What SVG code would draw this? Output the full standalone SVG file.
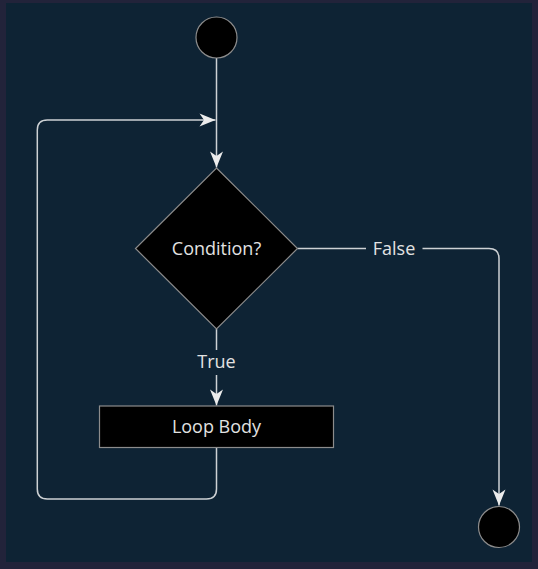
<svg xmlns="http://www.w3.org/2000/svg" width="538" height="569" viewBox="0 0 538 569">
<defs>
<style>
.node{fill:#000;stroke:#8c8c8c;stroke-width:1.2}
.edge{fill:none;stroke:#cdd1d4;stroke-width:1.5}
.lbl{font-family:"Open Sans","Noto Sans",sans-serif;font-size:18px;fill:#e2e2e2;text-anchor:middle;dominant-baseline:central}
</style>
<marker id="arr" markerUnits="userSpaceOnUse" markerWidth="18" markerHeight="14" refX="16" refY="6.5" orient="auto" overflow="visible">
<path d="M0,0 L16,6.5 L0,13 L4.5,6.5 Z" fill="#ececec"/>
</marker>
</defs>
<rect x="0" y="0" width="538" height="569" fill="#22233a"/>
<rect x="6" y="3" width="526" height="559" fill="#0e2334"/>
<g id="connectors">
<path class="edge" d="M216.5,58 V167.5" marker-end="url(#arr)"/>
<path class="edge" d="M297.5,248.5 H366"/>
<path class="edge" d="M422.5,248.5 H489 Q499,248.5 499,258.5 V505.5" marker-end="url(#arr)"/>
<path class="edge" d="M216.5,329 V350"/>
<path class="edge" d="M216.5,375 V405.5" marker-end="url(#arr)"/>
<path class="edge" d="M216.5,447.5 V489 Q216.5,499 206.5,499 H47.3 Q37.3,499 37.3,489 V130 Q37.3,120 47.3,120 H215.5" marker-end="url(#arr)"/>
<text class="lbl" x="394" y="247.5">False</text>
<text class="lbl" x="216.5" y="360.5">True</text>
</g>
<g id="start"><circle class="node" cx="216.5" cy="37.5" r="20.5"/></g>
<g id="condition">
<polygon class="node" points="216.5,168 297.5,248.5 216.5,329 135.5,248.5"/>
<text class="lbl" x="216.5" y="247.5">Condition?</text>
</g>
<g id="loopbody">
<rect class="node" x="99.5" y="406" width="234" height="41.5"/>
<text class="lbl" x="216.5" y="426">Loop Body</text>
</g>
<g id="end"><circle class="node" cx="499" cy="527" r="20.5"/></g>
</svg>
